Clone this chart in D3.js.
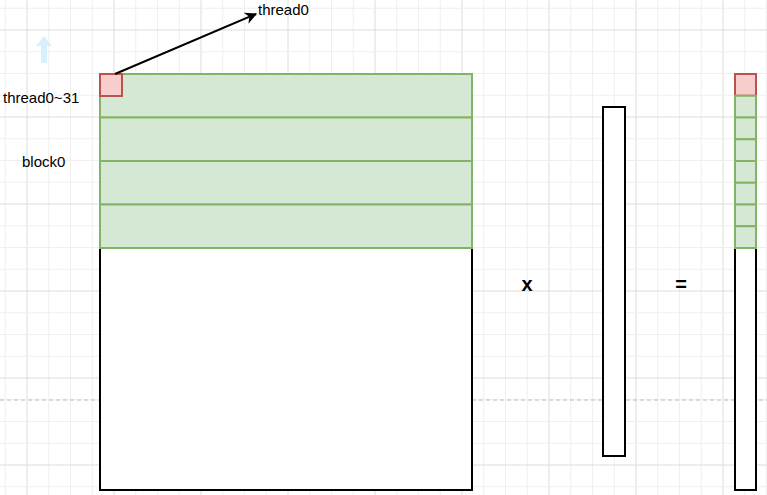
<!DOCTYPE html><html><head><meta charset="utf-8"><script src="https://cdn.jsdelivr.net/npm/d3@7"></script>
<style>body{margin:0;background:#fff}text{font-family:Arial,"Liberation Sans",sans-serif}</style></head><body>
<svg id="c" width="767" height="495"></svg>
<script>
const blockRows = ["row0","row1","row2","row3"];       // rows of block0 in matrix
const vectorCells = ["t0","t1","t2","t3","t4","t5","t6","t7"]; // result cells (thread0 red, then 7 green)
const labels = [{t:"thread0",x:258,y:15,a:"start"},{t:"thread0~31",x:3,y:103,a:"start"},{t:"block0",x:22,y:167,a:"start"}];
const svg=d3.select("#c");
// grid
const g=svg.append("g");
for(let i=-2;i<40;i++){const x=27+i*21.75;if(x<0||x>767)continue;g.append("line").attr("x1",x).attr("x2",x).attr("y1",0).attr("y2",495).attr("stroke",i%4==0?"#dcdcdc":"#efefef");}
for(let i=-2;i<30;i++){const y=30+i*21.75;if(y<0||y>495)continue;g.append("line").attr("y1",y).attr("y2",y).attr("x1",0).attr("x2",767).attr("stroke",i%4==0?"#dcdcdc":"#efefef");}
// dashed line
[[0,100],[472,767]].forEach(([a,b])=>svg.append("line").attr("x1",a).attr("x2",b).attr("y1",400).attr("y2",400).attr("stroke","#bbb").attr("stroke-dasharray","4,3"));
// faint arrow
svg.append("path").attr("d","M44,36 L52,46 L47,46 L47,63 L41,63 L41,46 L36,46 Z").attr("fill","#d8efff");
// main matrix
const y=d3.scaleBand().domain(blockRows).range([74,248]);
svg.append("rect").attr("x",100).attr("y",74).attr("width",372).attr("height",416).attr("fill","#fff").attr("stroke","#000").attr("stroke-width",2);
svg.selectAll(".br").data(blockRows).join("rect").attr("x",100).attr("y",d=>y(d)).attr("width",372).attr("height",y.bandwidth()).attr("fill","#d5e8d4").attr("stroke","#82b366").attr("stroke-width",2);
svg.append("rect").attr("x",100).attr("y",74).attr("width",22).attr("height",22).attr("fill","#f8cecc").attr("stroke","#b85450").attr("stroke-width",2);
// vector
svg.append("rect").attr("x",603).attr("y",107).attr("width",22).attr("height",349).attr("fill","#fff").attr("stroke","#000").attr("stroke-width",2);
// result
svg.append("rect").attr("x",735).attr("y",74).attr("width",21).attr("height",416).attr("fill","#fff").attr("stroke","#000").attr("stroke-width",2);
const vy=d3.scaleBand().domain(vectorCells).range([74,248]);
svg.selectAll(".vc").data(vectorCells).join("rect").attr("x",735).attr("y",d=>vy(d)).attr("width",21).attr("height",vy.bandwidth())
 .attr("fill",(d,i)=>i?"#d5e8d4":"#f8cecc").attr("stroke",(d,i)=>i?"#82b366":"#b85450").attr("stroke-width",2);
svg.select(".vc").raise();
svg.selectAll(".vc").filter((d,i)=>i==0).raise();
// arrow
svg.append("defs").append("marker").attr("id","ar").attr("viewBox","0 0 10 10").attr("refX",9).attr("refY",5).attr("markerWidth",6).attr("markerHeight",6).attr("orient","auto").append("path").attr("d","M0,0L10,5L0,10L3,5Z").attr("fill","#000");
svg.append("line").attr("x1",115).attr("y1",74).attr("x2",256).attr("y2",14).attr("stroke","#000").attr("stroke-width",2).attr("marker-end","url(#ar)");
// symbols
svg.append("text").attr("x",527).attr("y",291).attr("text-anchor","middle").attr("font-size",20).attr("font-weight","bold").text("x");
svg.append("text").attr("x",681).attr("y",291).attr("text-anchor","middle").attr("font-size",20).attr("font-weight","bold").text("=");
svg.selectAll(".lb").data(labels).join("text").attr("x",d=>d.x).attr("y",d=>d.y).attr("font-size",15).text(d=>d.t);
</script></body></html>
